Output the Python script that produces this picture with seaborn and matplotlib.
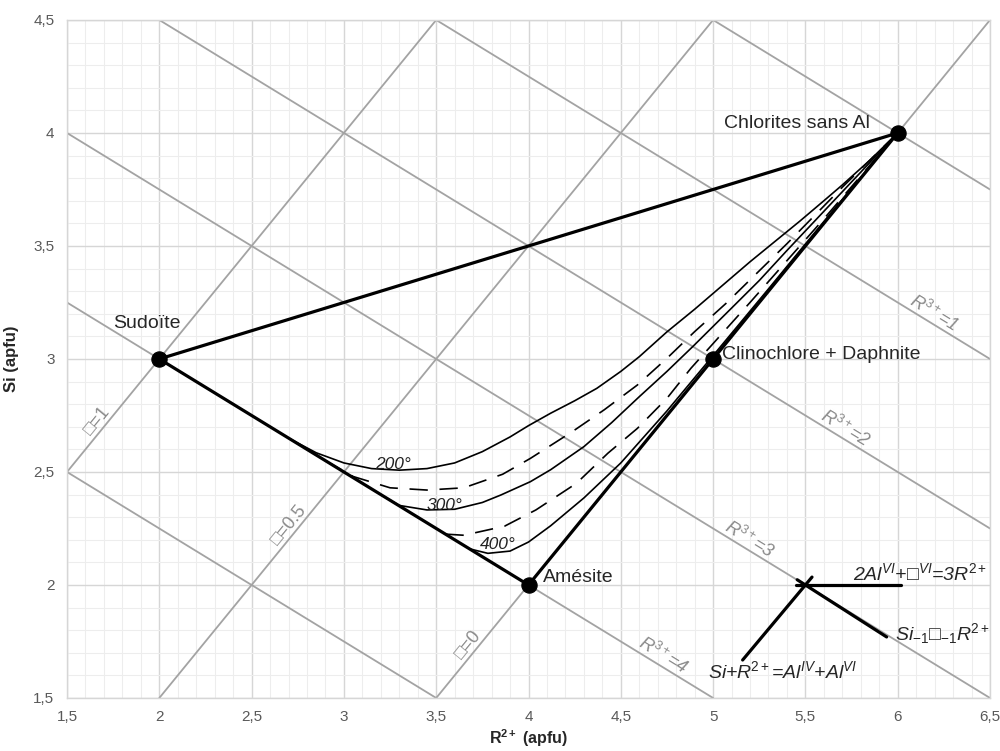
import numpy as np
import matplotlib
matplotlib.use("Agg")
import matplotlib.pyplot as plt
import seaborn as sns
from matplotlib.ticker import MultipleLocator, FixedLocator, FixedFormatter

# ---------------- data ----------------
end_names = ["Sudoïte", "Amésite", "Clinochlore + Daphnite", "Chlorites sans Al"]
end_r2 = [2.0, 4.0, 5.0, 6.0]
end_si = [3.0, 2.0, 3.0, 4.0]
edges = [(0, 3), (0, 1), (1, 3)]  # thick triangle edges (end-member indices)

# R3+ iso-lines: Si = b - 0.5 * R2+
r3_values = ["5", "4", "3", "2", "1", "0"]
r3_intercepts = [3.25, 4.0, 4.75, 5.5, 6.25, 7.0]
r3_slope = -0.5
# vacancy iso-lines: Si = R2+ + c
vac_values = ["1", "0.5", "0"]
vac_intercepts = [1.0, -0.5, -2.0]
vac_slope = 1.0

# isotherms
t200_x = [2.70, 2.85, 3.00, 3.15, 3.30, 3.45, 3.60, 3.75, 3.90, 4.00, 4.12, 4.25, 4.37, 4.50, 4.60, 4.75, 4.90, 5.00, 5.20, 5.35, 5.47, 5.60, 5.70, 5.85, 6.00]
t200_y = [2.650, 2.585, 2.540, 2.515, 2.508, 2.515, 2.540, 2.590, 2.655, 2.705, 2.760, 2.815, 2.870, 2.945, 3.010, 3.120, 3.220, 3.290, 3.430, 3.530, 3.610, 3.700, 3.770, 3.880, 4.000]
d1_x = [2.90, 3.05, 3.25, 3.45, 3.65, 3.86, 4.01, 4.24, 4.41, 4.59, 4.75, 4.90, 5.07, 5.15, 5.40, 5.70, 6.00]
d1_y = [2.550, 2.480, 2.430, 2.420, 2.430, 2.490, 2.560, 2.680, 2.775, 2.885, 3.003, 3.121, 3.246, 3.310, 3.510, 3.760, 4.000]
t300_x = [3.22, 3.30, 3.45, 3.60, 3.75, 3.85, 4.01, 4.12, 4.30, 4.45, 4.60, 4.75, 4.89, 5.09, 5.25, 5.40, 5.70, 6.00]
t300_y = [2.390, 2.352, 2.332, 2.335, 2.365, 2.398, 2.457, 2.510, 2.612, 2.718, 2.833, 2.945, 3.055, 3.217, 3.347, 3.480, 3.740, 4.000]
d2_x = [3.55, 3.65, 3.87, 4.04, 4.26, 4.43, 4.59, 4.75, 4.88, 5.20, 5.60, 6.00]
d2_y = [2.225, 2.220, 2.260, 2.332, 2.450, 2.583, 2.693, 2.826, 2.959, 3.250, 3.620, 4.000]
t400_x = [3.68, 3.78, 3.90, 4.00, 4.12, 4.30, 4.50, 4.75, 5.00, 5.30, 5.60, 6.00]
t400_y = [2.160, 2.140, 2.150, 2.190, 2.262, 2.385, 2.540, 2.770, 3.015, 3.310, 3.608, 4.000]
temp_labels = ["200°", "300°", "400°"]

# exchange vectors
vec_center_x = 5.5
vec_center_y = 2.0
vec_end_x = [6.02, 5.94, 5.16]
vec_end_y = [2.00, 1.77, 1.668]
vec_labels = [r"2Al$^{VI}$+□$^{VI}$=3R$^{2+}$",
              r"Si$_{-1}$□$_{-1}$R$^{2+}$",
              r"Si+R$^{2+}$=Al$^{IV}$+Al$^{VI}$"]

x_ticks = [1.5, 2.0, 2.5, 3.0, 3.5, 4.0, 4.5, 5.0, 5.5, 6.0, 6.5]
x_ticklabels = ["1,5", "2", "2,5", "3", "3,5", "4", "4,5", "5", "5,5", "6", "6,5"]
y_ticks = [1.5, 2.0, 2.5, 3.0, 3.5, 4.0, 4.5]
y_ticklabels = ["1,5", "2", "2,5", "3", "3,5", "4", "4,5"]

# ---------------- style ----------------
sns.set_theme(style="white")
plt.rcParams["font.family"] = ["Liberation Sans", "DejaVu Sans"]
plt.rcParams["mathtext.fontset"] = "custom"
plt.rcParams["mathtext.rm"] = "Liberation Sans"
plt.rcParams["mathtext.it"] = "Liberation Sans:italic"
plt.rcParams["mathtext.bf"] = "Liberation Sans:bold"

fig = plt.figure(figsize=(10, 7.51), dpi=100)
ax = fig.add_axes([0.067, 0.0706, 0.923, 0.9028])
ax.set_xlim(1.5, 6.5)
ax.set_ylim(1.5, 4.5)

# grid
ax.set_axisbelow(True)
ax.xaxis.set_major_locator(FixedLocator(x_ticks))
ax.xaxis.set_major_formatter(FixedFormatter(x_ticklabels))
ax.yaxis.set_major_locator(FixedLocator(y_ticks))
ax.yaxis.set_major_formatter(FixedFormatter(y_ticklabels))
ax.xaxis.set_minor_locator(MultipleLocator(0.1))
ax.yaxis.set_minor_locator(MultipleLocator(0.1))
ax.grid(which="major", color="#d6d6d6", lw=1.0, zorder=0)
ax.grid(which="minor", color="#ededed", lw=0.8, zorder=0)
ax.tick_params(which="both", length=0)
ax.tick_params(axis="x", pad=9, labelsize=11, labelcolor="#595959")
ax.tick_params(axis="y", pad=9, labelsize=11, labelcolor="#595959")
for s in ax.spines.values():
    s.set_color("#d6d6d6")
    s.set_linewidth(1.0)

grey = "#a3a3a3"
label_grey = "#8a8a8a"

# iso-lines
for b in r3_intercepts:
    ax.axline((0, b), slope=r3_slope, color=grey, lw=1.3, zorder=1)
for c in vac_intercepts:
    ax.axline((0, c), slope=vac_slope, color=grey, lw=1.3, zorder=1)

r3_label_pos = {"4": 4.70, "3": 5.17, "2": 5.69, "1": 6.17}
ang_r3 = np.degrees(np.arctan(r3_slope))
for v, b in zip(r3_values, r3_intercepts):
    if v in r3_label_pos:
        x0 = r3_label_pos[v]
        ax.text(x0, b + r3_slope * x0, f"R$^{{3+}}$={v}", rotation=ang_r3,
                transform_rotates_text=True, rotation_mode="anchor",
                ha="center", va="bottom", fontsize=13, style="italic",
                color=label_grey, zorder=2)

vac_label_pos = {"1": 1.70, "0.5": 2.74, "0": 3.71}
ang_vac = np.degrees(np.arctan(vac_slope))
for v, c in zip(vac_values, vac_intercepts):
    x0 = vac_label_pos[v]
    ax.text(x0, c + vac_slope * x0, f"□={v}", rotation=ang_vac,
            transform_rotates_text=True, rotation_mode="anchor",
            ha="center", va="bottom", fontsize=13, color=label_grey, zorder=2)

# isotherms
solid_kw = dict(color="black", lw=1.2, zorder=3)
dash_kw = dict(color="black", lw=1.2, zorder=3, dashes=(11, 7))
sns.lineplot(x=t200_x, y=t200_y, ax=ax, **solid_kw)
sns.lineplot(x=t300_x, y=t300_y, ax=ax, **solid_kw)
sns.lineplot(x=t400_x, y=t400_y, ax=ax, **solid_kw)
sns.lineplot(x=d1_x, y=d1_y, ax=ax, **dash_kw)
sns.lineplot(x=d2_x, y=d2_y, ax=ax, **dash_kw)

temp_pos = [(3.17, 2.535), (3.45, 2.352), (3.737, 2.177)]
for lab, (tx, ty) in zip(temp_labels, temp_pos):
    ax.text(tx, ty, lab, fontsize=12.5, style="italic", ha="left", va="center",
            color="#222222", zorder=6)

# triangle
for i, j in edges:
    sns.lineplot(x=[end_r2[i], end_r2[j]], y=[end_si[i], end_si[j]], sort=False,
                 ax=ax, color="black", lw=2.3, zorder=4)
sns.scatterplot(x=end_r2, y=end_si, ax=ax, s=120, color="black",
                edgecolor="black", zorder=5)

ax.text(1.75, 3.155, end_names[0], fontsize=14, ha="left", va="center", zorder=6)
ax.text(4.08, 2.035, end_names[1], fontsize=14, ha="left", va="center", zorder=6)
ax.text(5.05, 3.02, end_names[2], fontsize=14, ha="left", va="center", zorder=6)
ax.text(5.85, 4.04, end_names[3], fontsize=14, ha="right", va="center", zorder=6)

# exchange vectors
for ex, ey in zip(vec_end_x, vec_end_y):
    dx, dy = vec_center_x - ex, vec_center_y - ey
    L = np.hypot(dx, dy)
    ox, oy = vec_center_x + 0.05 * dx / L, vec_center_y + 0.05 * dy / L
    sns.lineplot(x=[ex, ox], y=[ey, oy], sort=False, ax=ax,
                 color="black", lw=2.3, zorder=4)

ax.text(5.76, 2.051, vec_labels[0], fontsize=14, style="italic", ha="left", va="center", zorder=6)
ax.text(5.985, 1.783, vec_labels[1], fontsize=14, style="italic", ha="left", va="center", zorder=6)
ax.text(4.972, 1.617, vec_labels[2], fontsize=14, style="italic", ha="left", va="center", zorder=6)

ax.set_xlabel(r"R$^{\mathbf{2+}}$ (apfu)", fontsize=11.5, fontweight="bold", labelpad=2)
ax.set_ylabel("Si (apfu)", fontsize=12, fontweight="bold", labelpad=10)

fig.savefig("out.png", dpi=100)
